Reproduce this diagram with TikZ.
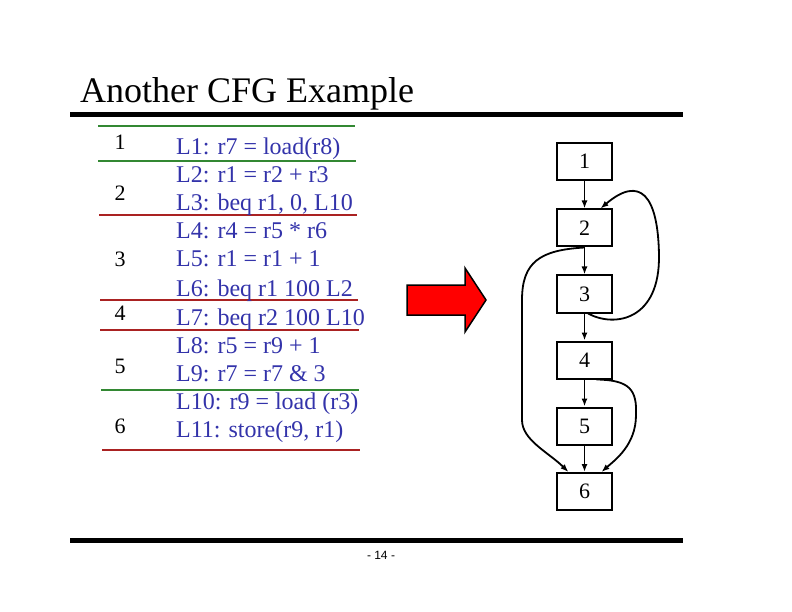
\documentclass[tikz,border=0pt]{standalone}
\usepackage{fontspec}
\setmainfont{Liberation Serif}
\newfontfamily\pgnumfont{Liberation Sans}
\usetikzlibrary{arrows.meta}
\definecolor{codeblue}{RGB}{51,51,170}
\definecolor{sepgreen}{RGB}{51,136,51}
\definecolor{sepred}{RGB}{170,34,34}
\begin{document}
\begin{tikzpicture}[x=1pt,y=-1pt,
  codeline/.style={anchor=base west, inner sep=0pt, text=codeblue, font=\fontsize{24}{28}\selectfont},
  blocknum/.style={anchor=base, inner sep=0pt, font=\fontsize{22}{26}\selectfont},
  sepg/.style={draw=sepgreen, line width=2pt},
  sepr/.style={draw=sepred, line width=2pt},
  cfgbox/.style={draw, line width=2pt, minimum width=55pt, minimum height=37pt, inner sep=0pt, font=\fontsize{22}{26}\selectfont},
  edge/.style={-{Latex[length=8pt,width=6pt]}, line width=1.8pt},
  rule/.style={line width=4.8pt}]
\useasboundingbox (0,0) rectangle (792,612);
% title
\node[anchor=base west, inner sep=0pt, font=\fontsize{36}{40}\selectfont] (title) at (80,103) {Another CFG Example};
\draw[rule] (70,114.5) -- (683,114.5);
\draw[rule] (70,540.5) -- (683,540.5);
\node[anchor=base, inner sep=0pt, font=\pgnumfont\fontsize{12}{14}\selectfont] (pg) at (381,559) {- 14 -};
% separators
\draw[sepg] (98,126) -- (355,126);
\draw[sepg] (98,161.5) -- (356,161.5);
\draw[sepr] (99,215.5) -- (357,215.5);
\draw[sepr] (100,299.5) -- (358,299.5);
\draw[sepr] (100,330) -- (359,330);
\draw[sepg] (101,389.5) -- (359,389.5);
\draw[sepr] (102,450) -- (360,450);
% block numbers
\node[blocknum] (n1) at (120,150) {1};
\node[blocknum] (n2) at (120,201) {2};
\node[blocknum] (n3) at (120,267) {3};
\node[blocknum] (n4) at (120,320) {4};
\node[blocknum] (n5) at (120,373) {5};
\node[blocknum] (n6) at (120,433) {6};
% code lines
\node[codeline] (l1) at (176,155) {L1: r7 = load(r8)};
\node[codeline] (l2) at (176,183) {L2: r1 = r2 + r3};
\node[codeline] (l3) at (176,211) {L3: beq r1, 0, L10};
\node[codeline] (l4) at (176,239) {L4: r4 = r5 * r6};
\node[codeline] (l5) at (176,267) {L5: r1 = r1 + 1};
\node[codeline] (l6) at (176,296) {L6: beq r1 100 L2};
\node[codeline] (l7) at (176,325) {L7: beq r2 100 L10};
\node[codeline] (l8) at (176,353) {L8: r5 = r9 + 1};
\node[codeline] (l9) at (176,381) {L9: r7 = r7 \& 3};
\node[codeline] (l10) at (176,409) {L10: r9 = load (r3)};
\node[codeline] (l11) at (176,437) {L11: store(r9, r1)};
% big red arrow
\draw[fill=red, line width=1.5pt, line join=miter] (407,285) -- (465,285) -- (465,268) -- (486,300) -- (465,332) -- (465,315) -- (407,315) -- cycle;
% CFG
\node[cfgbox] (b1) at (584.5,161.5) {1};
\node[cfgbox] (b2) at (584.5,228) {2};
\node[cfgbox] (b3) at (584.5,294) {3};
\node[cfgbox] (b4) at (584.5,360) {4};
\node[cfgbox] (b5) at (584.5,426) {5};
\node[cfgbox] (b6) at (584.5,491.5) {6};
\draw[edge] (b1) -- (b2);
\draw[edge] (b2) -- (b3);
\draw[edge] (b3) -- (b4);
\draw[edge] (b4) -- (b5);
\draw[edge] (b5) -- (b6);
% back edge 3 -> 2
\draw[edge] ([xshift=3.5pt]b3.south) .. controls (615,328) and (660,320) .. (659,255)
  .. controls (658,195) and (640,175) .. ([xshift=16pt]b2.north);
% 2 -> 6
\draw[edge] (b2.south) .. controls (540,250) and (522,262) .. (522,300) -- (522,420)
  .. controls (522,440) and (548,452) .. ([xshift=-16pt]b6.north);
% 4 -> 6
\draw[edge] ([xshift=12pt]b4.south) .. controls (630,380) and (637,390) .. (636,415)
  .. controls (636,445) and (615,460) .. ([xshift=17pt]b6.north);
\end{tikzpicture}
\end{document}
